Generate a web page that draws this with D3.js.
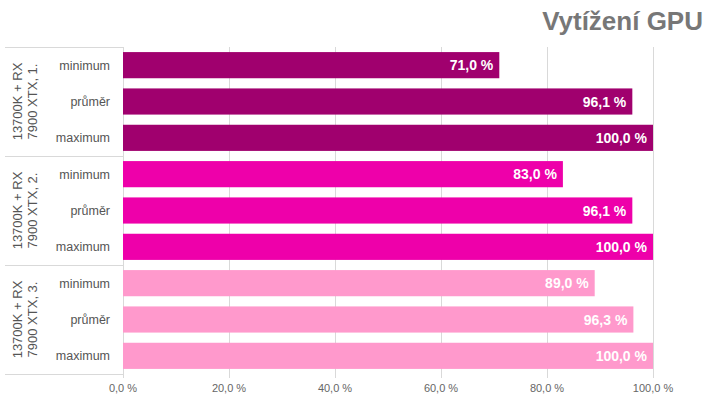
<!DOCTYPE html>
<html><head><meta charset="utf-8">
<script src="https://cdn.jsdelivr.net/npm/d3@7"></script>
<style>body{margin:0;background:#fff;}svg{display:block;font-family:Arial,"Liberation Sans",sans-serif;}</style>
</head><body><svg id="c" width="720" height="405"></svg>
<script>
const groups = ["13700K + RX|7900 XTX, 1.", "13700K + RX|7900 XTX, 2.", "13700K + RX|7900 XTX, 3."];
const metrics = ["minimum", "průměr", "maximum"];
const values1 = [71.0, 96.1, 100.0];
const values2 = [83.0, 96.1, 100.0];
const values3 = [89.0, 96.3, 100.0];
const colors = ["#a0006e", "#ee00aa", "#ff99cc"];
const ticks = [0, 20, 40, 60, 80, 100];
const title = "Vytížení GPU";

const allValues = [values1, values2, values3];
const svg = d3.select("#c");
const mLeft = 123, mRight = 653, mTop = 47, mBottom = 374;
const x = d3.scaleLinear().domain([0, 100]).range([mLeft, mRight]);
const yG = d3.scaleBand().domain(groups).range([mTop, mBottom]);
const yM = d3.scaleBand().domain(metrics).range([0, yG.bandwidth()]).paddingInner(0.28).paddingOuter(0.14);
const fmt = v => v.toFixed(1).replace(".", ",") + " %";

// grid
svg.append("g").selectAll("line").data(ticks).join("line")
  .attr("x1", d => Math.round(x(d)) + 0.5).attr("x2", d => Math.round(x(d)) + 0.5)
  .attr("y1", mTop).attr("y2", mBottom + 4)
  .attr("stroke", "#d9d9d9").attr("stroke-width", 1);

// group separators (left label box)
const seps = [mTop, ...groups.map(g => yG(g) + yG.bandwidth())];
svg.append("g").selectAll("line").data(seps).join("line")
  .attr("x1", 5).attr("x2", mLeft).attr("y1", d => Math.round(d) + 0.5).attr("y2", d => Math.round(d) + 0.5)
  .attr("stroke", "#d9d9d9");

groups.forEach((g, gi) => {
  const gg = svg.append("g").attr("transform", `translate(0,${yG(g)})`);
  const data = metrics.map((m, i) => ({m, v: allValues[gi][i]}));
  gg.selectAll("rect").data(data).join("rect")
    .attr("x", x(0)).attr("y", d => yM(d.m))
    .attr("width", d => x(d.v) - x(0)).attr("height", yM.bandwidth())
    .attr("fill", colors[gi]);
  gg.selectAll("text.val").data(data).join("text").attr("class", "val")
    .attr("x", d => x(d.v) - 6).attr("y", d => yM(d.m) + yM.bandwidth() / 2)
    .attr("dy", "0.36em").attr("text-anchor", "end")
    .attr("fill", "#fff").attr("font-weight", "bold").attr("font-size", 14)
    .text(d => fmt(d.v));
  gg.selectAll("text.cat").data(data).join("text").attr("class", "cat")
    .attr("x", 110).attr("y", d => yM(d.m) + yM.bandwidth() / 2)
    .attr("dy", "0.36em").attr("text-anchor", "end")
    .attr("fill", "#555").attr("font-size", 12.5)
    .text(d => d.m);
  const lines = g.split("|");
  const cy = yG.bandwidth() / 2;
  lines.forEach((t, li) => {
    gg.append("text")
      .attr("transform", `translate(${22 + li * 15},${cy}) rotate(-90)`)
      .attr("text-anchor", "middle").attr("fill", "#555").attr("font-size", 13)
      .text(t);
  });
});

// x tick labels
svg.append("g").selectAll("text").data(ticks).join("text")
  .attr("x", d => x(d)).attr("y", 392).attr("text-anchor", "middle")
  .attr("fill", "#666").attr("font-size", 11).text(d => fmt(d));

svg.append("text").attr("x", 703).attr("y", 30).attr("text-anchor", "end")
  .attr("fill", "#777").attr("font-weight", "bold").attr("font-size", 26).text(title);
</script></body></html>
